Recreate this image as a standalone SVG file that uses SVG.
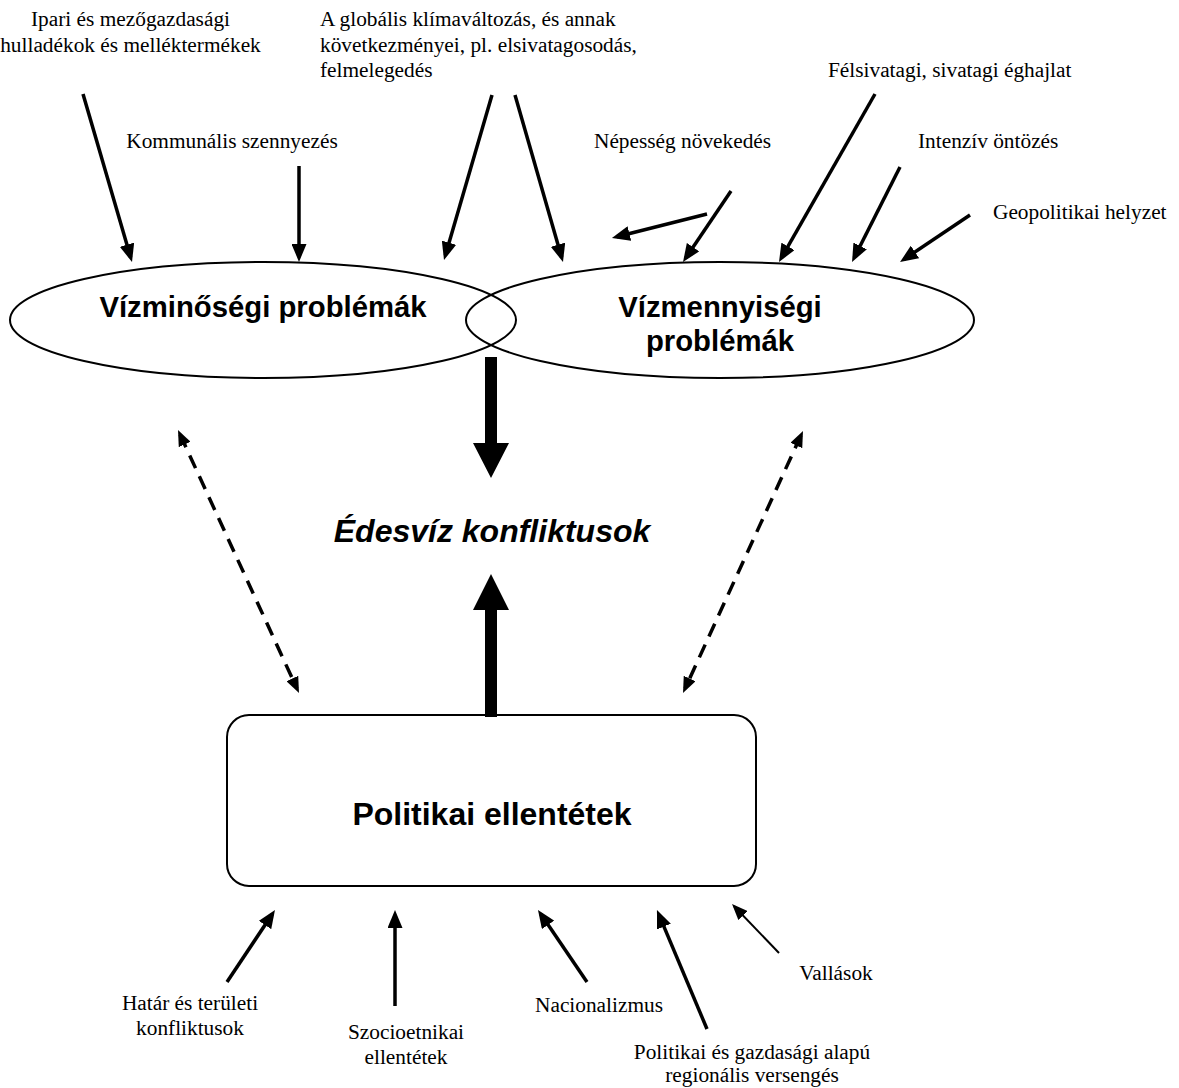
<svg xmlns="http://www.w3.org/2000/svg" width="1179" height="1088" viewBox="0 0 1179 1088">
<style>
.lbl{font-family:"Liberation Serif","Times New Roman",serif;font-size:21.33px;fill:#000}
.big{font-family:"Liberation Sans",Arial,sans-serif;font-weight:bold;fill:#000}
.shape{fill:none;stroke:#000;stroke-width:2}
.arr{stroke:#000;stroke-width:3.5;fill:none;marker-end:url(#ah)}
.thin{stroke:#000;stroke-width:2;fill:none;marker-end:url(#ahs)}
.dash{stroke:#000;stroke-width:3.5;fill:none;stroke-dasharray:14 9;marker-start:url(#ahd);marker-end:url(#ahd)}
</style>
<defs>
<marker id="ah" markerUnits="userSpaceOnUse" markerWidth="18" markerHeight="15" refX="13" refY="7.5" orient="auto"><path d="M0,0 L18,7.5 L0,15 Z" fill="#000"/></marker>
<marker id="ahs" markerUnits="userSpaceOnUse" markerWidth="16" markerHeight="13" refX="13" refY="6.5" orient="auto"><path d="M0,0 L16,6.5 L0,13 Z" fill="#000"/></marker>
<marker id="ahd" markerUnits="userSpaceOnUse" markerWidth="16" markerHeight="13" refX="11" refY="6.5" orient="auto-start-reverse"><path d="M0,0 L16,6.5 L0,13 Z" fill="#000"/></marker>
</defs>
<rect width="1179" height="1088" fill="#fff"/>

<g id="node-vizminoseg">
<ellipse class="shape" cx="263" cy="320" rx="253" ry="58"/>
<text class="big" x="263" y="317" font-size="29.3" text-anchor="middle">Vízminőségi problémák</text>
</g>
<g id="node-vizmennyiseg">
<ellipse class="shape" cx="720" cy="320" rx="254" ry="58"/>
<text class="big" x="720" y="317" font-size="29.3" text-anchor="middle">Vízmennyiségi</text>
<text class="big" x="720" y="351" font-size="29.3" text-anchor="middle">problémák</text>
</g>
<g id="node-edesviz">
<text class="big" x="492" y="542" font-size="32" font-style="italic" text-anchor="middle">Édesvíz konfliktusok</text>
</g>
<g id="node-politikai">
<rect class="shape" x="227" y="715" width="529" height="171" rx="22" ry="22"/>
<text class="big" x="492" y="825" font-size="32" text-anchor="middle">Politikai ellentétek</text>
</g>

<g id="label-ipari"><text class="lbl" text-anchor="middle" x="130.5" y="26">Ipari és mezőgazdasági</text><text class="lbl" text-anchor="middle" x="130.5" y="51.5">hulladékok és melléktermékek</text></g>
<g id="label-kommunalis"><text class="lbl" text-anchor="middle" x="232" y="148">Kommunális szennyezés</text></g>
<g id="label-klima"><text class="lbl" x="320" y="26">A globális klímaváltozás, és annak</text><text class="lbl" x="320" y="51.5">következményei, pl. elsivatagosodás,</text><text class="lbl" x="320" y="77">felmelegedés</text></g>
<g id="label-felsivatagi"><text class="lbl" x="828" y="77">Félsivatagi, sivatagi éghajlat</text></g>
<g id="label-nepesseg"><text class="lbl" x="594" y="148">Népesség növekedés</text></g>
<g id="label-intenziv"><text class="lbl" x="918" y="148">Intenzív öntözés</text></g>
<g id="label-geopolitikai"><text class="lbl" x="993" y="219">Geopolitikai helyzet</text></g>
<g id="label-hatar"><text class="lbl" text-anchor="middle" x="190" y="1010">Határ és területi</text><text class="lbl" text-anchor="middle" x="190" y="1035">konfliktusok</text></g>
<g id="label-szocio"><text class="lbl" text-anchor="middle" x="406" y="1039">Szocioetnikai</text><text class="lbl" text-anchor="middle" x="406" y="1064">ellentétek</text></g>
<g id="label-nacionalizmus"><text class="lbl" text-anchor="middle" x="599" y="1012">Nacionalizmus</text></g>
<g id="label-vallasok"><text class="lbl" text-anchor="middle" x="836" y="980">Vallások</text></g>
<g id="label-regionalis"><text class="lbl" text-anchor="middle" x="752" y="1059">Politikai és gazdasági alapú</text><text class="lbl" text-anchor="middle" x="752" y="1082">regionális versengés</text></g>

<g id="connectors">
<line class="arr" x1="83" y1="94" x2="130.6" y2="257.2"/>
<line class="arr" x1="299" y1="166" x2="299" y2="257"/>
<line class="arr" x1="492" y1="95" x2="445.4" y2="255.2"/>
<line class="arr" x1="515" y1="95" x2="561.6" y2="257.2"/>
<line class="arr" x1="707" y1="214" x2="616.8" y2="236.8"/>
<line class="arr" x1="731" y1="191" x2="685.8" y2="257.9"/>
<line class="arr" x1="875" y1="94" x2="781.5" y2="257.7"/>
<line class="arr" x1="900" y1="167" x2="854.3" y2="257.5"/>
<line class="arr" x1="970" y1="215" x2="904.2" y2="259.2"/>
<line class="arr" x1="227" y1="982" x2="272.2" y2="914.2"/>
<line class="arr" x1="395" y1="1006" x2="395" y2="915"/>
<line class="arr" x1="587" y1="982" x2="540.8" y2="914.1"/>
<line class="arr" x1="707" y1="1029" x2="658.9" y2="914.6"/>
<line class="thin" x1="779" y1="953" x2="734.1" y2="906.2"/>
<line class="dash" x1="180.1" y1="434.5" x2="296.9" y2="688.5"/>
<line class="dash" x1="800.9" y1="435.5" x2="685.1" y2="688.5"/>
<path d="M485,357 H497 V443 H509 L491,478 L473,443 H485 Z" fill="#000"/>
<path d="M491,574 L509,610 H497 V717 H485 V610 H473 Z" fill="#000"/>
</g>
</svg>
